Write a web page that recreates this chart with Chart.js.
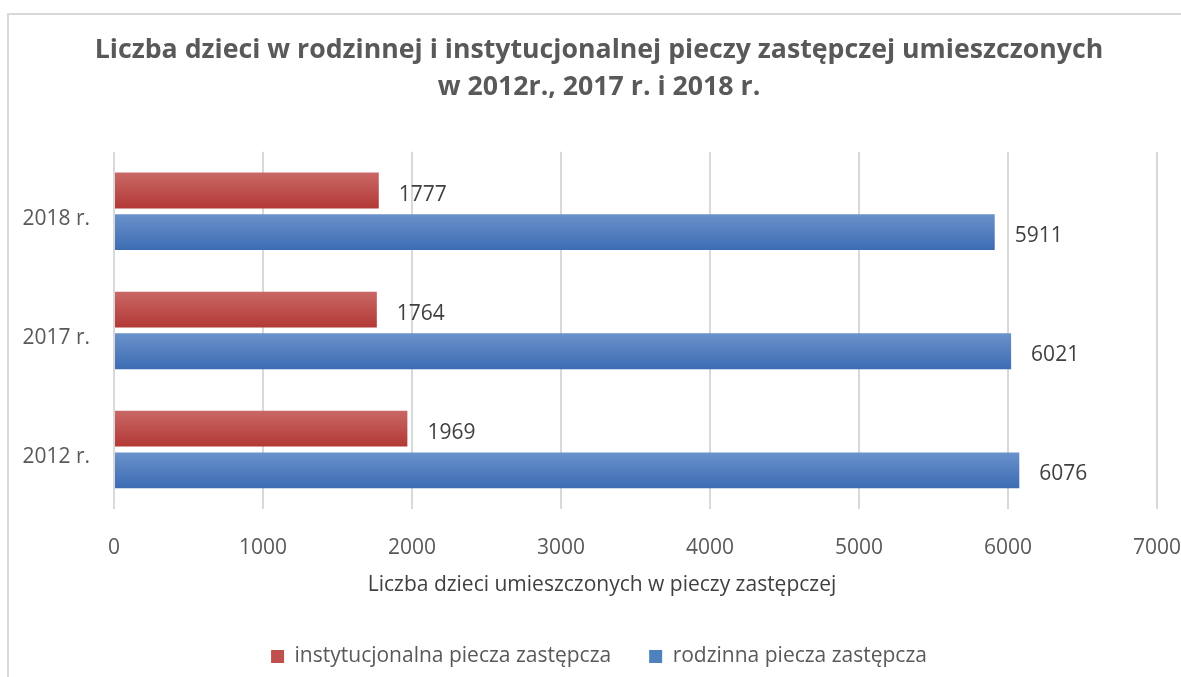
<!DOCTYPE html>
<html>
<head>
<meta charset="utf-8">
<script src="https://cdn.jsdelivr.net/npm/chart.js@4"></script>
<style>
  html, body { margin: 0; padding: 0; background: #fff; }
  #wrap { position: relative; width: 1181px; height: 677px; overflow: hidden; }
  #frame { position: absolute; left: 7px; top: 13px; width: 1300px; height: 800px; border: 2px solid #d9d9d9; box-sizing: border-box; }
  canvas { position: absolute; left: 0; top: 0; }
</style>
</head>
<body>
<div id="wrap">
  <div id="frame"></div>
  <canvas id="chart" width="1207" height="677"></canvas>
</div>
<script>
const categories = ["2018 r.", "2017 r.", "2012 r."];
const instytucjonalna = [1777, 1764, 1969];
const rodzinna = [5911, 6021, 6076];
const xTicks = [0, 1000, 2000, 3000, 4000, 5000, 6000, 7000];
const axisTitle = "Liczba dzieci umieszczonych w pieczy zastępczej";

const FONT = "'Open Sans', 'Noto Sans', sans-serif";

// Excel-like vertical gradient on each bar
const gradientBars = {
  id: "gradientBars",
  beforeDatasetsDraw(chart) {
    const ctx = chart.ctx;
    const stops = [
      ["#c96866", "#b33835"],
      ["#6a92cb", "#3c6cb3"]
    ];
    chart.data.datasets.forEach((ds, i) => {
      chart.getDatasetMeta(i).data.forEach(el => {
        const h = el.height;
        const g = ctx.createLinearGradient(0, el.y - h / 2, 0, el.y + h / 2);
        g.addColorStop(0, stops[i][0]);
        g.addColorStop(1, stops[i][1]);
        el.options = Object.assign({}, el.options, { backgroundColor: g });
      });
    });
  }
};

// value labels to the right of each bar + x axis title (centred on the whole chart like Excel)
const valueLabels = {
  id: "valueLabels",
  afterDatasetsDraw(chart) {
    const ctx = chart.ctx;
    ctx.save();
    ctx.font = "21px " + FONT;
    ctx.fillStyle = "#404040";
    ctx.textAlign = "left";
    ctx.textBaseline = "middle";
    chart.data.datasets.forEach((ds, i) => {
      chart.getDatasetMeta(i).data.forEach((el, j) => {
        ctx.fillText(String(ds.data[j]), el.x + 20, el.y + 4);
      });
    });
    ctx.textAlign = "center";
    ctx.fillText(axisTitle, 602, 585);
    ctx.restore();
  }
};

new Chart(document.getElementById("chart"), {
  type: "bar",
  data: {
    labels: categories,
    datasets: [
      {
        label: "instytucjonalna piecza zastępcza",
        data: instytucjonalna,
        backgroundColor: "#c0504d",
        categoryPercentage: 0.7,
        barPercentage: 0.86
      },
      {
        label: "rodzinna piecza zastępcza",
        data: rodzinna,
        backgroundColor: "#4f81bd",
        categoryPercentage: 0.7,
        barPercentage: 0.86
      }
    ]
  },
  options: {
    indexAxis: "y",
    responsive: false,
    animation: false,
    layout: { padding: { left: 7, right: 16, top: 13, bottom: 0 } },
    plugins: {
      title: {
        display: true,
        text: ["Liczba dzieci w rodzinnej i instytucjonalnej pieczy zastępczej umieszczonych", "w 2012r., 2017 r. i 2018 r."],
        color: "#595959",
        font: { family: FONT, size: 26.7, weight: "bold", lineHeight: 1.42 },
        padding: { top: 18, bottom: 45 }
      },
      legend: {
        position: "bottom",
        labels: {
          color: "#595959",
          font: { family: FONT, size: 21 },
          boxWidth: 13,
          boxHeight: 13,
          padding: 38
        }
      },
      tooltip: { enabled: false }
    },
    scales: {
      x: {
        min: 0,
        max: 7000,
        afterBuildTicks(scale) {
          scale.ticks = xTicks.map(v => ({ value: v }));
        },
        afterFit(scale) { scale.height = 99; },
        grid: { color: "#d9d9d9", lineWidth: 2, drawTicks: false },
        border: { display: false },
        ticks: {
          color: "#595959",
          font: { family: FONT, size: 21 },
          padding: 26,
          maxRotation: 0,
          callback: v => String(v)
        }
      },
      y: {
        afterFit(scale) { scale.width = 107; },
        grid: { display: false, drawTicks: false },
        border: { display: false },
        ticks: { color: "#595959", font: { family: FONT, size: 21 }, padding: 24, labelOffset: 8 }
      }
    }
  },
  plugins: [gradientBars, valueLabels]
});
</script>
</body>
</html>
